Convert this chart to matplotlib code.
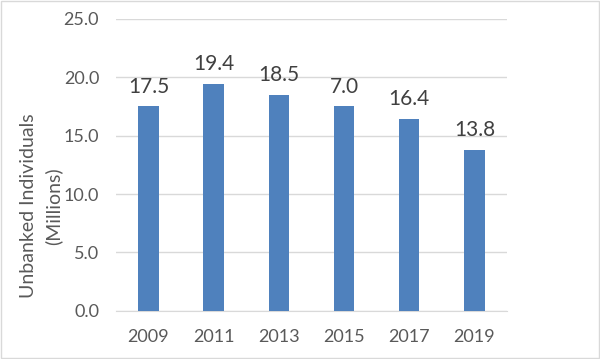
import numpy as np
import matplotlib
matplotlib.use("Agg")
from matplotlib import pyplot as plt
from matplotlib.patches import Rectangle

years = ['2009', '2011', '2013', '2015', '2017', '2019']
unbanked = [17.5, 19.4, 18.5, 17.5, 16.4, 13.8]
# label text as printed on the chart (2015 label reads "7.0")
barLabels = ['17.5', '19.4', '18.5', '7.0', '16.4', '13.8']
yTicks = [0, 5, 10, 15, 20, 25]


def main():
    plt.rcParams['font.family'] = ['Lato', 'DejaVu Sans']

    fig = plt.figure(figsize=(6.0, 3.59), dpi=100)
    ax = fig.add_axes([0.193, 0.134, 0.652, 0.814])

    x = np.arange(len(years))
    bars = ax.bar(x, unbanked, width=0.31, color='#4f81bd', zorder=3)

    for bar, lab in zip(bars, barLabels):
        ax.annotate(lab, (bar.get_x() + bar.get_width() / 2, bar.get_height()),
                    xytext=(0, 7), textcoords='offset points',
                    ha='center', va='bottom', fontsize=15, color='#404040')

    ax.set_xlim(-0.5, len(years) - 0.5)
    ax.set_ylim(0, 25)
    ax.set_yticks(yTicks)
    ax.set_yticklabels(['%.1f' % t for t in yTicks])
    ax.set_xticks(x)
    ax.set_xticklabels(years)
    ax.tick_params(axis='both', length=0, labelsize=13, colors='#595959')
    ax.tick_params(axis='x', pad=13)
    ax.tick_params(axis='y', pad=12)

    ax.grid(axis='y', color='#d9d9d9', linewidth=1, zorder=0)
    for side in ['top', 'right', 'left']:
        ax.spines[side].set_visible(False)
    ax.spines['bottom'].set_color('#d9d9d9')

    ax.set_ylabel('Unbanked Individuals\n(Millions)', fontsize=14, color='#595959',
                  linespacing=1.5, va='center', ha='center')
    ax.yaxis.set_label_coords(-0.19, 0.36)

    fig.patches.append(Rectangle((0.001, 0.004), 0.997, 0.994, transform=fig.transFigure,
                                 fill=False, edgecolor='#d9d9d9', linewidth=1))

    fig.savefig('out.png', dpi=100)


if __name__ == "__main__":
    main()
